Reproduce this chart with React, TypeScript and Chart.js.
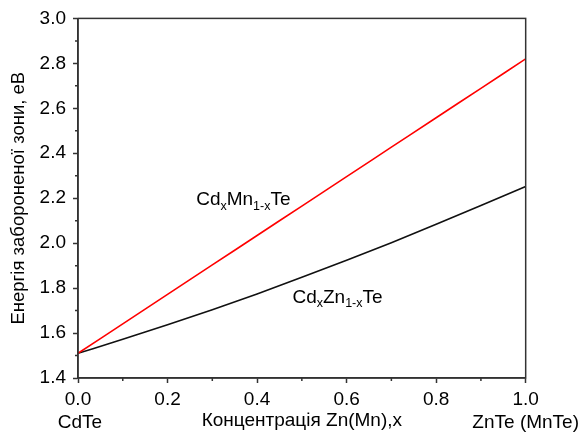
import React, { useEffect, useRef } from "react";
import { Chart, registerables } from "chart.js";

Chart.register(...registerables);

const xValues = [0, 0.1, 0.2, 0.3, 0.4, 0.5, 0.6, 0.7, 0.8, 0.9, 1.0];
const cdMnTe = [1.51, 1.641, 1.772, 1.903, 2.034, 2.165, 2.296, 2.427, 2.558, 2.689, 2.82];
const cdZnTe = [1.51, 1.572, 1.637, 1.704, 1.774, 1.848, 1.924, 2.002, 2.084, 2.168, 2.252];

const xTitle = "Концентрація Zn(Mn),x";
const yTitle = "Енергія забороненої зони, еВ";
const leftEndLabel = "CdTe";
const rightEndLabel = "ZnTe (MnTe)";

// annotation anchors in data units
const labelMn = { x: 0.264, y: 2.2, parts: [["Cd", false], ["x", true], ["Mn", false], ["1-x", true], ["Te", false]] };
const labelZn = { x: 0.479, y: 1.767, parts: [["Cd", false], ["x", true], ["Zn", false], ["1-x", true], ["Te", false]] };

const FONT = "'Liberation Sans', Arial, sans-serif";

const boxAndMinor = {
  id: "boxAndMinor",
  afterDraw(chart: any) {
    const { ctx, chartArea, scales } = chart;
    ctx.save();
    ctx.strokeStyle = "#333";
    ctx.lineWidth = 1.5;
    ctx.strokeRect(chartArea.left, chartArea.top, chartArea.right - chartArea.left, chartArea.bottom - chartArea.top);
    // minor ticks
    ctx.beginPath();
    for (let v = 0.1; v < 1; v += 0.2) {
      const px = scales.x.getPixelForValue(v);
      ctx.moveTo(px, chartArea.bottom);
      ctx.lineTo(px, chartArea.bottom + 3);
    }
    for (let v = 1.5; v < 3.0; v += 0.2) {
      const py = scales.y.getPixelForValue(v);
      ctx.moveTo(chartArea.left, py);
      ctx.lineTo(chartArea.left - 3, py);
    }
    ctx.stroke();

    // labels with subscripts
    const drawLabel = (lab: any) => {
      let x = scales.x.getPixelForValue(lab.x);
      const y = scales.y.getPixelForValue(lab.y);
      ctx.fillStyle = "#000";
      ctx.textBaseline = "alphabetic";
      ctx.textAlign = "left";
      for (const [t, sub] of lab.parts) {
        ctx.font = sub ? `12.5px ${FONT}` : `19px ${FONT}`;
        ctx.fillText(t, x, sub ? y + 11.5 : y + 7);
        x += ctx.measureText(t).width;
      }
    };
    drawLabel(labelMn);
    drawLabel(labelZn);
    ctx.restore();
  },
};

export default function App() {
  const ref = useRef<HTMLCanvasElement>(null);
  useEffect(() => {
    if (!ref.current) return;
    const chart = new Chart(ref.current, {
      type: "line",
      data: {
        datasets: [
          {
            label: "CdxMn1-xTe",
            data: xValues.map((x, i) => ({ x, y: cdMnTe[i] })),
            borderColor: "#ff0000",
            borderWidth: 1.6,
            pointRadius: 0,
            cubicInterpolationMode: "monotone",
          },
          {
            label: "CdxZn1-xTe",
            data: xValues.map((x, i) => ({ x, y: cdZnTe[i] })),
            borderColor: "#111",
            borderWidth: 1.6,
            pointRadius: 0,
            cubicInterpolationMode: "monotone",
          },
        ],
      },
      options: {
        animation: false,
        responsive: true,
        maintainAspectRatio: false,
        layout: { padding: { top: 16, right: 56, left: 0, bottom: 0 } },
        plugins: { legend: { display: false }, tooltip: { enabled: false } },
        scales: {
          x: {
            type: "linear",
            min: 0,
            max: 1,
            afterFit: (s: any) => { s.height = 59; },
            border: { color: "#333", width: 1.5 },
            grid: { drawOnChartArea: false, drawTicks: true, tickLength: 5, tickColor: "#333", tickWidth: 1.5 },
            ticks: {
              stepSize: 0.2,
              maxRotation: 0,
              autoSkip: false,
              padding: 5,
              color: "#000",
              font: { family: FONT, size: 19, lineHeight: 1.21 },
              callback: (v: any) => {
                const n = Number(v);
                const s = n.toFixed(1);
                if (Math.abs(n) < 1e-9) return [s, "\u2009" + leftEndLabel];
                if (Math.abs(n - 1) < 1e-9) return [s, rightEndLabel];
                return s;
              },
            },
            title: {
              display: true,
              text: xTitle,
              color: "#000",
              font: { family: FONT, size: 19 },
              padding: { top: 0, bottom: 5 },
            },
          },
          y: {
            type: "linear",
            min: 1.4,
            max: 3.0,
            afterFit: (s: any) => { s.width = 78; },
            border: { color: "#333", width: 1.5 },
            grid: { drawOnChartArea: false, drawTicks: true, tickLength: 5, tickColor: "#333", tickWidth: 1.5 },
            ticks: {
              stepSize: 0.2,
              padding: 7,
              color: "#000",
              font: { family: FONT, size: 19 },
              callback: (v: any) => Number(v).toFixed(1),
            },
            title: {
              display: true,
              text: yTitle,
              color: "#000",
              font: { family: FONT, size: 18.5 },
              padding: { top: 8, bottom: 0 },
            },
          },
        },
      },
      plugins: [boxAndMinor],
    });
    return () => chart.destroy();
  }, []);
  return (
    <div style={{ position: "fixed", left: 0, top: 0, width: 584, height: 437, background: "#fff" }}>
      <canvas ref={ref} />
    </div>
  );
}
